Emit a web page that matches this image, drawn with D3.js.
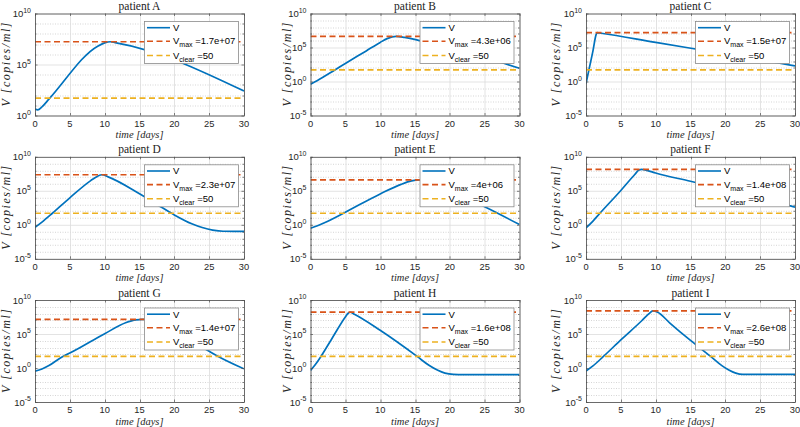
<!DOCTYPE html>
<html><head><meta charset="utf-8">
<script src="https://cdn.jsdelivr.net/npm/d3@7"></script>
<style>body{margin:0;background:#fff}svg{display:block}</style>
</head><body><svg id="c" width="800" height="427"></svg>
<script>
// ---- data ----
const patients = ["A","B","C","D","E","F","G","H","I"];
const vMax = [1.7e7, 4.3e6, 1.5e7, 2.3e7, 4e6, 1.4e8, 1.4e7, 1.6e8, 2.6e8];
const vMaxLabel = ["1.7e+07","4.3e+06","1.5e+07","2.3e+07","4e+06","1.4e+08","1.4e+07","1.6e+08","2.6e+08"];
const vClear = 50;
const xTicks = [0, 5, 10, 15, 20, 25, 30];
const yDecadesA = [0, 10];
const yDecades = [-5, 10];
// time knots [days] and log10(V)
const timeA = [0, 0.4, 1, 2, 9, 10, 10.8, 11.5, 30];
const expA  = [0.62, 0.56, 0.85, 1.6, 6.8, 7.12, 7.23, 7.15, 2.4];
const timeB = [0, 1, 3.5, 5, 8, 10, 11, 12.3, 13.5, 20, 27, 30];
const expB  = [-0.4, 0.15, 1.7, 2.65, 4.5, 5.75, 6.3, 6.63, 6.5, 4.7, 2.9, 1.95];
const timeC = [0, 0.5, 1.0, 1.45, 1.6, 2.2, 10, 20, 28, 30];
const expC  = [-0.3, 2.1, 4.5, 6.9, 7.18, 7.1, 5.75, 4.05, 2.65, 2.29];
const timeD = [0, 1, 2.5, 5, 8, 9, 9.6, 10.5, 15, 17.5, 20, 22.5, 24, 25.5, 27, 30];
const expD  = [-0.37, 0.4, 1.7, 3.97, 6.5, 7.15, 7.36, 7.05, 4.56, 3.0, 1.45, 0.15, -0.4, -0.78, -0.95, -0.96];
const timeE = [0, 1, 2, 5, 10, 13, 14.5, 15.5, 17, 20, 25, 30];
const expE  = [-0.5, -0.15, 0.3, 1.85, 4.54, 5.95, 6.45, 6.6, 6.45, 5.0, 2.65, 0.03];
const timeF = [0, 1, 2, 5, 7, 7.6, 8.0, 8.6, 10, 15, 20, 28.8, 30];
const expF  = [-0.47, 0.55, 1.7, 5.05, 7.4, 8.05, 8.15, 8.05, 7.62, 6.4, 5.15, 2.93, 2.59];
const timeG = [0, 1, 2, 4, 5, 10, 13, 14.5, 15.5, 16.5, 20, 25, 26.3, 30];
const expG  = [-0.46, -0.15, 0.35, 1.7, 2.19, 5.04, 6.65, 7.08, 7.15, 7.05, 5.15, 2.45, 1.7, -0.12];
const timeH = [0, 0.7, 1.5, 3, 5, 5.4, 5.7, 6.3, 10, 15.3, 17, 18.2, 19.3, 20.5, 22, 30];
const expH  = [-0.37, 0.5, 1.7, 4.2, 7.5, 8.05, 8.2, 7.9, 5.54, 1.7, 0.4, -0.3, -0.75, -0.93, -0.96, -0.96];
const timeI = [0, 1, 2.5, 5, 8, 9, 9.6, 10.3, 12, 15, 17.9, 19.5, 20.5, 21.5, 22.5, 30];
const expI  = [-0.44, 0.3, 1.7, 4.13, 6.95, 7.95, 8.41, 8.2, 6.65, 4.05, 1.7, 0.35, -0.3, -0.75, -0.93, -0.95];

const times = [timeA,timeB,timeC,timeD,timeE,timeF,timeG,timeH,timeI];
const exps  = [expA,expB,expC,expD,expE,expF,expG,expH,expI];

// ---- layout ----
const colLeft = [35, 310.5, 586];
const rowTop = [13.5, 156.8, 300];
const W = 209, H = 102;
const ylabX = [6, 287, 556];
const cBlue = "#0072BD", cRed = "#D95319", cYel = "#EDB120";
const sans = "'Liberation Sans', Arial, Helvetica, sans-serif";
const serif = "'Liberation Serif', 'Times New Roman', serif";

const svg = d3.select("#c");
svg.append("rect").attr("width",800).attr("height",427).attr("fill","#fff");

patients.forEach((p, i) => {
  const r = Math.floor(i/3), c = i%3;
  const x0 = colLeft[c], y0 = rowTop[r];
  const dec = i === 0 ? yDecadesA : yDecades;
  const x = d3.scaleLinear().domain([0,30]).range([0,W]);
  const y = d3.scaleLog().domain([Math.pow(10,dec[0]), Math.pow(10,dec[1])]).range([H,0]);
  const g = svg.append("g").attr("transform",`translate(${x0},${y0})`);
  g.append("rect").attr("width",W).attr("height",H).attr("fill","#fff");
  const clipId = "clip"+i;
  g.append("clipPath").attr("id",clipId).append("rect").attr("width",W).attr("height",H);

  const decades = d3.range(dec[0], dec[1]+1);
  const major = decades.filter(d => d % 5 === 0);
  const minor = decades.filter(d => d % 5 !== 0);
  g.selectAll(".mg").data(minor).enter().append("line")
    .attr("x1",0).attr("x2",W)
    .attr("y1",d=>Math.round(y(Math.pow(10,d)))+0.5).attr("y2",d=>Math.round(y(Math.pow(10,d)))+0.5)
    .attr("stroke","#c4c4c4").attr("stroke-width",0.7).attr("stroke-dasharray","1,1.5");
  g.selectAll(".gy").data(major).enter().append("line")
    .attr("x1",0).attr("x2",W)
    .attr("y1",d=>Math.round(y(Math.pow(10,d)))+0.5).attr("y2",d=>Math.round(y(Math.pow(10,d)))+0.5)
    .attr("stroke","#dcdcdc").attr("stroke-width",0.8);
  g.selectAll(".gx").data(xTicks).enter().append("line")
    .attr("y1",0).attr("y2",H)
    .attr("x1",d=>Math.round(x(d))+0.5).attr("x2",d=>Math.round(x(d))+0.5)
    .attr("stroke","#dcdcdc").attr("stroke-width",0.8);

  const plot = g.append("g").attr("clip-path",`url(#${clipId})`);
  const pts = times[i].map((t,k)=>[t, Math.pow(10, exps[i][k])]);
  const line = d3.line().x(d=>x(d[0])).y(d=>y(d[1])).curve(d3.curveMonotoneX);
  plot.append("path").datum(pts).attr("d",line).attr("fill","none")
    .attr("stroke",cBlue).attr("stroke-width",1.7).attr("stroke-linejoin","round");
  plot.append("line").attr("x1",0).attr("x2",W).attr("y1",y(vMax[i])).attr("y2",y(vMax[i]))
    .attr("stroke",cRed).attr("stroke-width",1.7).attr("stroke-dasharray","6,3.5");
  plot.append("line").attr("x1",0).attr("x2",W).attr("y1",y(vClear)).attr("y2",y(vClear))
    .attr("stroke",cYel).attr("stroke-width",1.7).attr("stroke-dasharray","6,3.5");

  g.append("rect").attr("x",0.5).attr("y",0.5).attr("width",W).attr("height",H)
    .attr("fill","none").attr("stroke","#4d4d4d").attr("stroke-width",0.8);
  xTicks.forEach(t=>{
    const xx = Math.round(x(t))+0.5;
    g.append("line").attr("x1",xx).attr("x2",xx).attr("y1",H).attr("y2",H-2.5).attr("stroke","#4d4d4d").attr("stroke-width",0.7);
    g.append("line").attr("x1",xx).attr("x2",xx).attr("y1",0).attr("y2",2.5).attr("stroke","#4d4d4d").attr("stroke-width",0.7);
  });
  decades.forEach(d=>{
    const yy = Math.round(y(Math.pow(10,d)))+0.5;
    const len = d%5===0 ? 2.5 : 1.5;
    g.append("line").attr("x1",0).attr("x2",len).attr("y1",yy).attr("y2",yy).attr("stroke","#4d4d4d").attr("stroke-width",0.7);
    g.append("line").attr("x1",W-len).attr("x2",W).attr("y1",yy).attr("y2",yy).attr("stroke","#4d4d4d").attr("stroke-width",0.7);
  });
  xTicks.forEach(t=>{
    g.append("text").attr("x",x(t)).attr("y",H+11.3).attr("text-anchor","middle")
      .attr("font-family",sans).attr("font-size",9.3).attr("fill","#262626").text(t);
  });
  major.forEach(d=>{
    const yy = y(Math.pow(10,d));
    const tx = g.append("text").attr("x",-4).attr("y",yy+3.5).attr("text-anchor","end")
      .attr("font-family",sans).attr("font-size",9.5).attr("fill","#262626");
    tx.append("tspan").text("10");
    tx.append("tspan").attr("dy",-4.5).attr("font-size",7).text(d);
  });
  g.append("text").attr("x",W/2).attr("y",-3.5).attr("text-anchor","middle")
    .attr("font-family",serif).attr("font-weight",400).attr("font-size",11.5).attr("fill","#222").text("patient " + p);
  g.append("text").attr("x",W/2).attr("y",H+22.5).attr("text-anchor","middle")
    .attr("font-family",serif).attr("font-style","italic").attr("font-weight",400).attr("font-size",10.5).attr("fill","#262626")
    .attr("textLength",48).attr("lengthAdjust","spacing").text("time [days]");
  svg.append("text").attr("transform",`translate(${ylabX[c]},${y0+H/2}) rotate(-90)`)
    .attr("text-anchor","middle").attr("dy","0.35em")
    .attr("font-family",serif).attr("font-style","italic").attr("font-weight",400).attr("font-size",12).attr("fill","#262626")
    .attr("textLength",84).attr("lengthAdjust","spacing").text("V [copies/ml]");

  const LW = 94, LH = 42;
  const lg = g.append("g").attr("transform",`translate(${W-LW-6},${7.5})`);
  lg.append("rect").attr("x",0.5).attr("y",0.5).attr("width",LW).attr("height",LH)
    .attr("fill","#fff").attr("stroke","#8a8a8a").attr("stroke-width",0.8);
  const rows = [6.7, 20.3, 34.5];
  const cols = [cBlue, cRed, cYel];
  rows.forEach((ry,k)=>{
    lg.append("line").attr("x1",3).attr("x2",26).attr("y1",ry).attr("y2",ry)
      .attr("stroke",cols[k]).attr("stroke-width",1.6)
      .attr("stroke-dasharray", k===0 ? null : "6,3.5");
  });
  lg.append("text").attr("x",29).attr("y",rows[0]+3.5).attr("font-family",sans).attr("font-size",9.5).attr("fill","#000").text("V");
  const t1 = lg.append("text").attr("x",29).attr("y",rows[1]+3).attr("font-family",sans).attr("font-size",9.5).attr("fill","#000");
  t1.append("tspan").text("V");
  t1.append("tspan").attr("dy",3).attr("font-size",7).text("max");
  t1.append("tspan").attr("dy",-3).text(" =" + vMaxLabel[i]);
  const t2 = lg.append("text").attr("x",29).attr("y",rows[2]+3).attr("font-family",sans).attr("font-size",9.5).attr("fill","#000");
  t2.append("tspan").text("V");
  t2.append("tspan").attr("dy",3).attr("font-size",7).text("clear");
  t2.append("tspan").attr("dy",-3).text(" =" + vClear);
});
</script></body></html>
